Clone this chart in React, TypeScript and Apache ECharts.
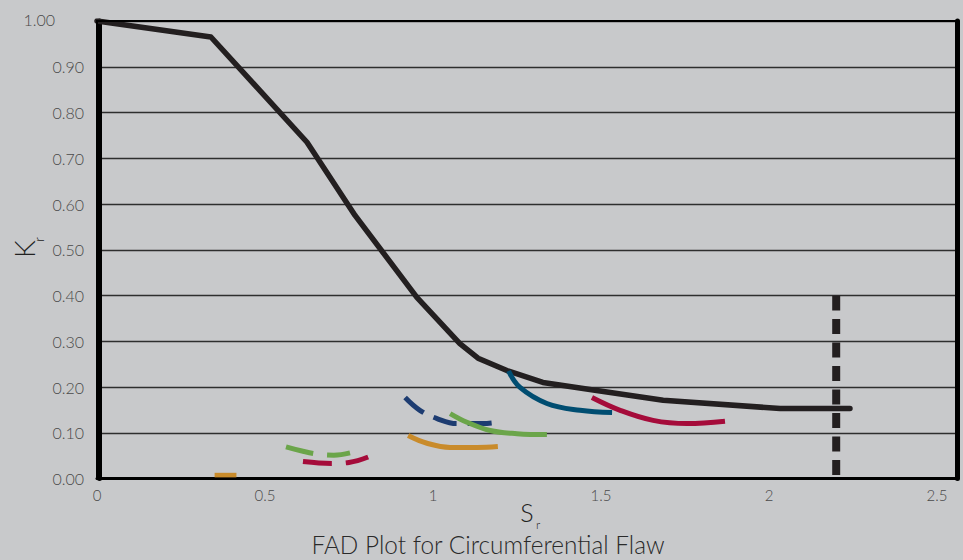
import React, { useEffect, useRef } from "react";
import * as echarts from "echarts";

// FAD (failure assessment diagram) curve
const fadSr = [0, 0.339, 0.625, 0.768, 0.952, 1.08, 1.134, 1.22, 1.327, 1.482, 1.685, 2.033, 2.241];
const fadKr = [1.0, 0.965, 0.735, 0.575, 0.396, 0.295, 0.263, 0.236, 0.21, 0.193, 0.171, 0.153, 0.153];

// cut-off line
const cutoffSr = [2.2, 2.2];
const cutoffKr = [0.4, 0];

// flaw assessment curves
const tealSr = [1.225, 1.259, 1.339, 1.4375, 1.533];
const tealKr = [0.235, 0.199, 0.164, 0.149, 0.144];

const crimsonSr = [1.473, 1.557, 1.655, 1.756, 1.869];
const crimsonKr = [0.177, 0.149, 0.127, 0.12, 0.125];

const greenSr = [1.051, 1.101, 1.17, 1.25, 1.339];
const greenKr = [0.142, 0.123, 0.105, 0.098, 0.096];

const navySr = [0.917, 0.961, 1.012, 1.071, 1.149, 1.193];
const navyKr = [0.177, 0.149, 0.131, 0.12, 0.12, 0.123];

const goldSr = [0.926, 0.982, 1.051, 1.131, 1.193];
const goldKr = [0.094, 0.077, 0.068, 0.068, 0.07];

const greenSmallSr = [0.5625, 0.61, 0.66, 0.705, 0.753];
const greenSmallKr = [0.069, 0.06, 0.053, 0.051, 0.056];

const redSmallSr = [0.613, 0.66, 0.7, 0.75, 0.807];
const redSmallKr = [0.037, 0.034, 0.033, 0.035, 0.047];

const goldSmallSr = [0.35, 0.415];
const goldSmallKr = [0.007, 0.007];

const xTickLabels = ["0", "0.5", "1", "1.5", "2", "2.5"];

const FONT = "Lato, 'Open Sans', sans-serif";

const pairs = (xs: number[], ys: number[]) => xs.map((x, i) => [x, ys[i]]);

export default function App() {
  const ref = useRef<HTMLDivElement>(null);

  useEffect(() => {
    if (!ref.current) return;
    const chart = echarts.init(ref.current, null, { renderer: "svg" });

    const arc = (
      name: string,
      xs: number[],
      ys: number[],
      color: string,
      width: number,
      type: any = "solid",
      smooth: number | boolean = 0.4,
      cap: string = "butt",
      z = 3
    ) => ({
      name,
      type: "line",
      data: pairs(xs, ys),
      showSymbol: false,
      symbol: "none",
      smooth,
      z,
      lineStyle: { color, width, type, cap, join: "round" },
      silent: true,
    });

    chart.setOption({
      animation: false,
      backgroundColor: "#c8c9cb",
      grid: {
        left: 97,
        top: 21,
        right: 5.5,
        bottom: 81.5,
        show: true,
        borderColor: "#000",
        borderWidth: 2,
        backgroundColor: "transparent",
        z: 5,
      },
      xAxis: {
        type: "value",
        min: 0,
        max: 2.561,
        interval: 0.5,
        axisLine: { show: true, onZero: false, lineStyle: { color: "#000", width: 3 } },
        axisTick: { show: false },
        splitLine: { show: false },
        axisLabel: {
          margin: 9,
          fontFamily: FONT,
          fontWeight: 300,
          fontSize: 15,
          color: "#4a4a4a",
          showMaxLabel: false,
          formatter: (v: number) => {
            const k = Math.round(v * 2);
            if (Math.abs(v * 2 - k) > 1e-6) return "";
            return xTickLabels[k] ?? "";
          },
        },
      },
      yAxis: [
        {
          type: "value",
          min: 0,
          max: 1,
          interval: 0.1,
          offset: -2.5,
          axisLine: { show: true, lineStyle: { color: "#000", width: 5 } },
          axisTick: { show: false },
          splitLine: { show: true, lineStyle: { color: "#2e2e2e", width: 1.3 } },
          axisLabel: {
            margin: 15.5,
            fontFamily: FONT,
            fontWeight: 300,
            fontSize: 16,
            color: "#4a4a4a",
            formatter: (v: number) => (Math.abs(v - 1) < 1e-6 ? "{top|1.00}" : v.toFixed(2)),
            rich: {
              top: {
                fontFamily: FONT,
                fontWeight: 300,
                fontSize: 16,
                color: "#4a4a4a",
                padding: [0, 29, 4, 0],
              },
            },
          },
        },
        {
          type: "value",
          min: 0,
          max: 1,
          interval: 0.1,
          position: "right",
          axisLine: { show: true, lineStyle: { color: "#000", width: 5 } },
          axisTick: { show: false },
          axisLabel: { show: false },
          splitLine: { show: false },
        },
      ],
      graphic: [
        {
          type: "text",
          x: 24,
          y: 249,
          rotation: Math.PI / 2,
          style: {
            text: "K",
            fontFamily: FONT,
            fontWeight: 300,
            fontSize: 28,
            fill: "#222",
            align: "center",
            verticalAlign: "middle",
          },
        },
        {
          type: "text",
          x: 39,
          y: 239.5,
          rotation: Math.PI / 2,
          style: {
            text: "r",
            fontFamily: FONT,
            fontWeight: 300,
            fontSize: 13,
            fill: "#222",
            align: "center",
            verticalAlign: "middle",
          },
        },
        {
          type: "text",
          x: 527,
          y: 512,
          style: {
            text: "S",
            fontFamily: FONT,
            fontWeight: 300,
            fontSize: 25,
            fill: "#222",
            align: "center",
            verticalAlign: "middle",
          },
        },
        {
          type: "text",
          x: 538,
          y: 524,
          style: {
            text: "r",
            fontFamily: FONT,
            fontWeight: 300,
            fontSize: 12,
            fill: "#222",
            align: "center",
            verticalAlign: "middle",
          },
        },
        {
          type: "text",
          x: 488,
          y: 544.5,
          scaleX: 0.975,
          style: {
            text: "FAD Plot for Circumferential Flaw",
            fontFamily: FONT,
            fontWeight: 300,
            fontSize: 25,
            fill: "#2a2a2a",
            align: "center",
            verticalAlign: "middle",
          },
        },
      ],
      series: [
        arc("FAD", fadSr, fadKr, "#231f20", 5.5, "solid", false, "round", 2),
        arc("Cut-off", cutoffSr, cutoffKr, "#231f20", 8, [15, 8.5], false, "butt", 2),
        arc("Flaw A", tealSr, tealKr, "#004d71", 5),
        arc("Flaw B", crimsonSr, crimsonKr, "#a50b3a", 5),
        arc("Flaw C", navySr, navyKr, "#1d3c71", 5, [24, 11]),
        arc("Flaw D", greenSr, greenKr, "#6ba54a", 5),
        arc("Flaw E", goldSr, goldKr, "#c98b2b", 5),
        arc("Flaw F", greenSmallSr, greenSmallKr, "#6ba54a", 5, [28, 14]),
        arc("Flaw G", redSmallSr, redSmallKr, "#a50b3a", 5, [29, 14]),
        arc("Flaw H", goldSmallSr, goldSmallKr, "#c98b2b", 5, "solid", false),
      ],
    });

    return () => chart.dispose();
  }, []);

  return <div ref={ref} style={{ width: 963, height: 560, position: "fixed", left: 0, top: 0 }} />;
}
